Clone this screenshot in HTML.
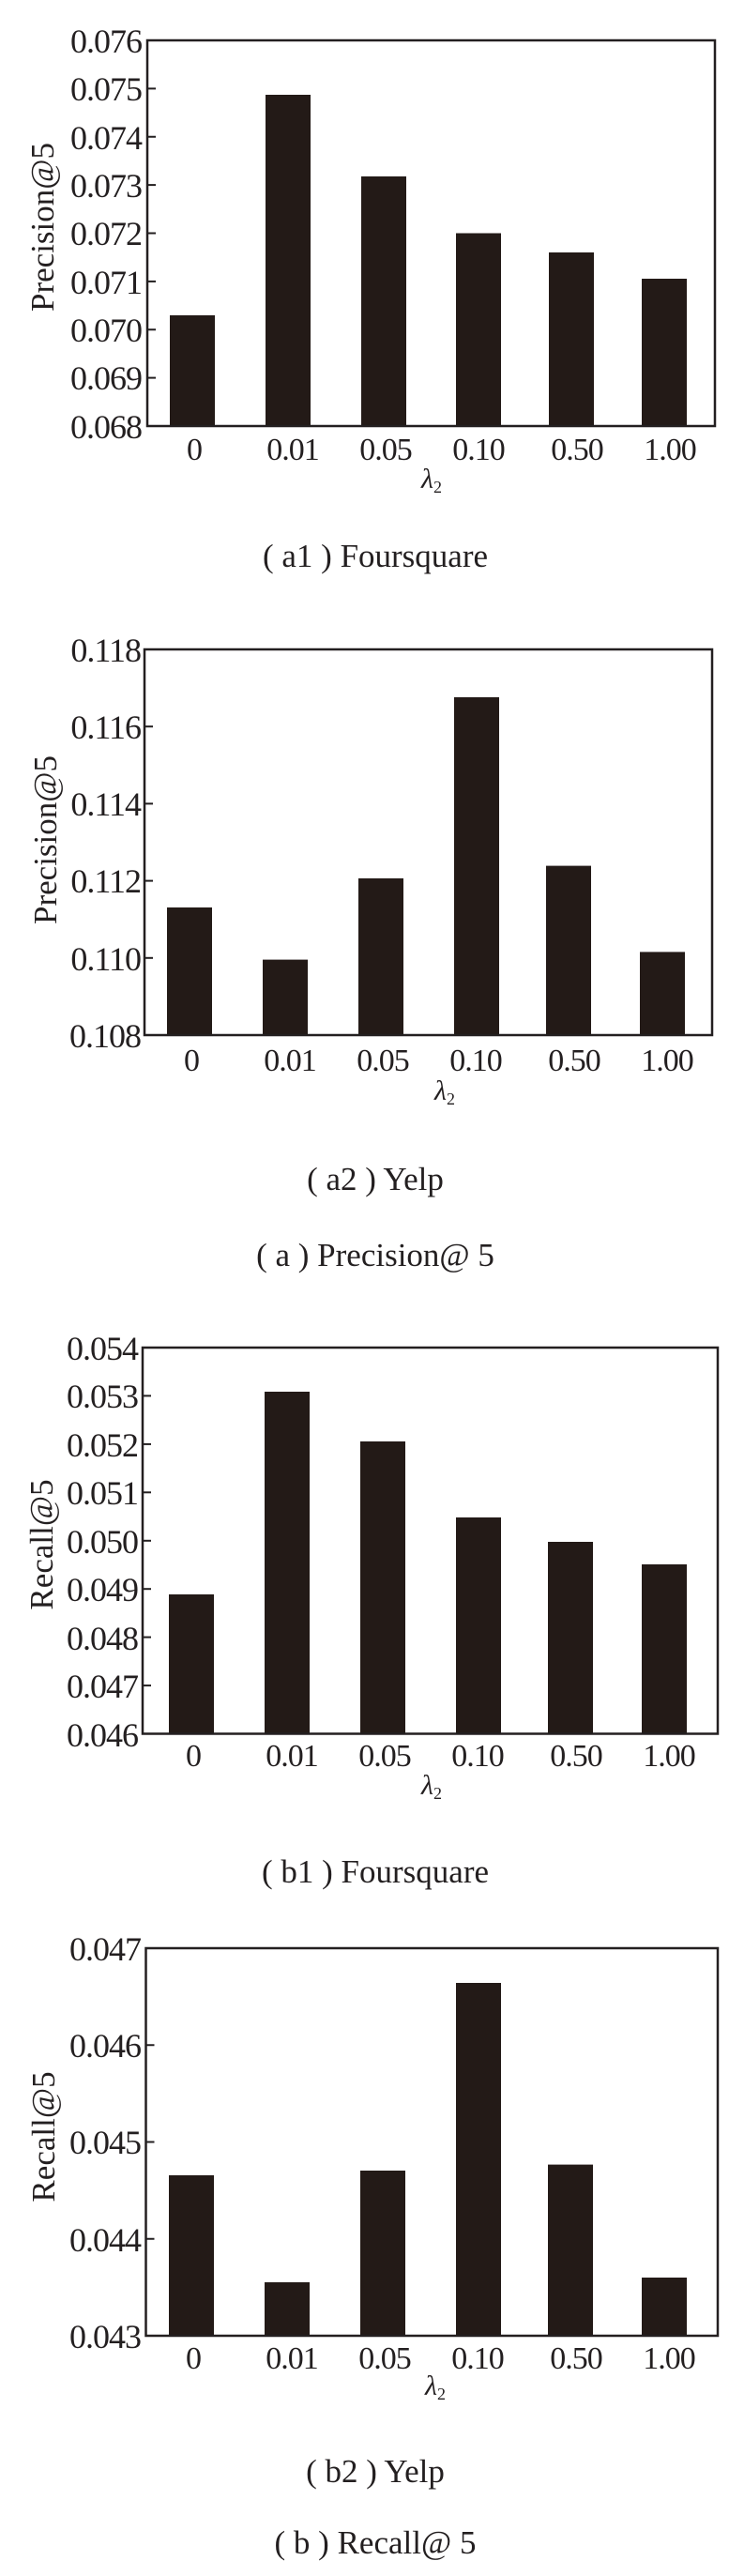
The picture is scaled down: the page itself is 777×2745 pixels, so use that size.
<!DOCTYPE html>
<html><head><meta charset="utf-8"><style>
html,body{margin:0;padding:0;background:#fff;}
svg{display:block;}
text{font-family:"Liberation Serif",serif;fill:#231f20;}
.t{font-size:36px;text-anchor:end;letter-spacing:-1px;}
.x{font-size:34px;text-anchor:middle;letter-spacing:-1px;}
.c{font-size:35px;text-anchor:middle;}
.yl{font-size:35px;text-anchor:middle;}
.lm{font-size:30px;font-style:italic;text-anchor:middle;}
.b{fill:#231a17;}
.f{fill:none;stroke:#231f20;stroke-width:2.5;}
.k{stroke:#231f20;stroke-width:2;}
</style></head><body>
<svg width="777" height="2745" viewBox="0 0 777 2745" xmlns="http://www.w3.org/2000/svg">
<!-- Chart 1 -->
<g>
<rect class="b" x="181" y="336" width="48" height="118"/>
<rect class="b" x="283" y="101" width="48" height="353"/>
<rect class="b" x="385" y="188" width="48" height="266"/>
<rect class="b" x="486" y="248.5" width="48" height="205.5"/>
<rect class="b" x="585" y="269" width="48" height="185"/>
<rect class="b" x="684" y="297" width="48" height="157"/>
<rect class="f" x="157" y="43" width="605" height="411"/>
<line class="k" x1="157" y1="94.4" x2="166" y2="94.4"/><line class="k" x1="157" y1="145.75" x2="166" y2="145.75"/><line class="k" x1="157" y1="197.1" x2="166" y2="197.1"/><line class="k" x1="157" y1="248.5" x2="166" y2="248.5"/><line class="k" x1="157" y1="299.9" x2="166" y2="299.9"/><line class="k" x1="157" y1="351.25" x2="166" y2="351.25"/><line class="k" x1="157" y1="402.6" x2="166" y2="402.6"/>
<text class="t" x="151" y="56">0.076</text><text class="t" x="151" y="107">0.075</text><text class="t" x="151" y="159">0.074</text><text class="t" x="151" y="210">0.073</text><text class="t" x="151" y="261">0.072</text><text class="t" x="151" y="313">0.071</text><text class="t" x="151" y="364">0.070</text><text class="t" x="151" y="415">0.069</text><text class="t" x="151" y="467">0.068</text>
<text class="x" x="207" y="490">0</text><text class="x" x="312" y="490">0.01</text><text class="x" x="411" y="490">0.05</text><text class="x" x="510" y="490">0.10</text><text class="x" x="615" y="490">0.50</text><text class="x" x="714" y="490">1.00</text>
<text class="lm" x="460" y="520">λ<tspan style="font-size:18px;font-style:normal" dy="5">2</tspan></text>
<text class="yl" transform="translate(57,242) rotate(-90)">Precision@5</text>
<text class="c" x="400" y="604">( a1 ) Foursquare</text>
</g>
<!-- Chart 2 -->
<g>
<rect class="b" x="178" y="967" width="48" height="136"/>
<rect class="b" x="280" y="1022.6" width="48" height="80.4"/>
<rect class="b" x="382" y="936" width="48" height="167"/>
<rect class="b" x="484" y="743" width="48" height="360"/>
<rect class="b" x="582" y="922.6" width="48" height="180.4"/>
<rect class="b" x="682" y="1014.4" width="48" height="88.6"/>
<rect class="f" x="154" y="692" width="605" height="411"/>
<line class="k" x1="154" y1="774.2" x2="163" y2="774.2"/><line class="k" x1="154" y1="856.4" x2="163" y2="856.4"/><line class="k" x1="154" y1="938.6" x2="163" y2="938.6"/><line class="k" x1="154" y1="1020.8" x2="163" y2="1020.8"/>
<text class="t" x="150" y="705">0.118</text><text class="t" x="150" y="787">0.116</text><text class="t" x="150" y="869">0.114</text><text class="t" x="150" y="951">0.112</text><text class="t" x="150" y="1034">0.110</text><text class="t" x="150" y="1116">0.108</text>
<text class="x" x="204" y="1141">0</text><text class="x" x="309" y="1141">0.01</text><text class="x" x="408" y="1141">0.05</text><text class="x" x="507" y="1141">0.10</text><text class="x" x="612" y="1141">0.50</text><text class="x" x="711" y="1141">1.00</text>
<text class="lm" x="474" y="1172">λ<tspan style="font-size:18px;font-style:normal" dy="5">2</tspan></text>
<text class="yl" transform="translate(60,895) rotate(-90)">Precision@5</text>
<text class="c" x="400" y="1268">( a2 ) Yelp</text>
<text class="c" x="400" y="1349">( a ) Precision@ 5</text>
</g>
<!-- Chart 3 -->
<g>
<rect class="b" x="180" y="1699" width="48" height="148.5"/>
<rect class="b" x="282" y="1483" width="48" height="364.5"/>
<rect class="b" x="384" y="1536" width="48" height="311.5"/>
<rect class="b" x="486" y="1617" width="48" height="230.5"/>
<rect class="b" x="584" y="1643" width="48" height="204.5"/>
<rect class="b" x="684" y="1667" width="48" height="180.5"/>
<rect class="f" x="152" y="1436" width="613" height="411.5"/>
<line class="k" x1="152" y1="1487.4" x2="161" y2="1487.4"/><line class="k" x1="152" y1="1538.9" x2="161" y2="1538.9"/><line class="k" x1="152" y1="1590.3" x2="161" y2="1590.3"/><line class="k" x1="152" y1="1641.8" x2="161" y2="1641.8"/><line class="k" x1="152" y1="1693.2" x2="161" y2="1693.2"/><line class="k" x1="152" y1="1744.6" x2="161" y2="1744.6"/><line class="k" x1="152" y1="1796.1" x2="161" y2="1796.1"/>
<text class="t" x="147" y="1449">0.054</text><text class="t" x="147" y="1500">0.053</text><text class="t" x="147" y="1552">0.052</text><text class="t" x="147" y="1603">0.051</text><text class="t" x="147" y="1655">0.050</text><text class="t" x="147" y="1706">0.049</text><text class="t" x="147" y="1758">0.048</text><text class="t" x="147" y="1809">0.047</text><text class="t" x="147" y="1861">0.046</text>
<text class="x" x="206" y="1882">0</text><text class="x" x="311" y="1882">0.01</text><text class="x" x="410" y="1882">0.05</text><text class="x" x="509" y="1882">0.10</text><text class="x" x="614" y="1882">0.50</text><text class="x" x="713" y="1882">1.00</text>
<text class="lm" x="460" y="1912">λ<tspan style="font-size:18px;font-style:normal" dy="5">2</tspan></text>
<text class="yl" transform="translate(56,1646) rotate(-90)">Recall@5</text>
<text class="c" x="400" y="2006">( b1 ) Foursquare</text>
</g>
<!-- Chart 4 -->
<g>
<rect class="b" x="180" y="2318" width="48" height="171"/>
<rect class="b" x="282" y="2432" width="48" height="57"/>
<rect class="b" x="384" y="2313" width="48" height="176"/>
<rect class="b" x="486" y="2113" width="48" height="376"/>
<rect class="b" x="584" y="2306.6" width="48" height="182.4"/>
<rect class="b" x="684" y="2427" width="48" height="62"/>
<rect class="f" x="155.5" y="2076" width="609.5" height="413"/>
<line class="k" x1="155.5" y1="2179.25" x2="164.5" y2="2179.25"/><line class="k" x1="155.5" y1="2282.5" x2="164.5" y2="2282.5"/><line class="k" x1="155.5" y1="2385.75" x2="164.5" y2="2385.75"/>
<text class="t" x="150" y="2089">0.047</text><text class="t" x="150" y="2192">0.046</text><text class="t" x="150" y="2295">0.045</text><text class="t" x="150" y="2399">0.044</text><text class="t" x="150" y="2502">0.043</text>
<text class="x" x="206" y="2524">0</text><text class="x" x="311" y="2524">0.01</text><text class="x" x="410" y="2524">0.05</text><text class="x" x="509" y="2524">0.10</text><text class="x" x="614" y="2524">0.50</text><text class="x" x="713" y="2524">1.00</text>
<text class="lm" x="464" y="2552">λ<tspan style="font-size:18px;font-style:normal" dy="5">2</tspan></text>
<text class="yl" transform="translate(58,2277) rotate(-90)">Recall@5</text>
<text class="c" x="400" y="2645">( b2 ) Yelp</text>
<text class="c" x="400" y="2721">( b ) Recall@ 5</text>
</g>
</svg>
</body></html>
